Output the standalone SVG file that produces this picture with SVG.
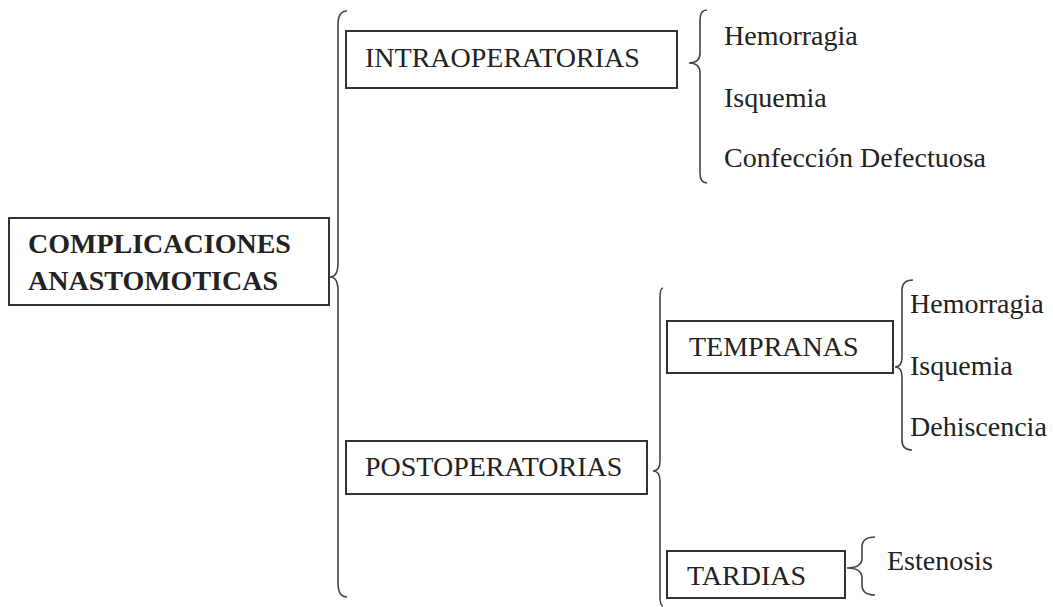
<svg xmlns="http://www.w3.org/2000/svg" width="1053" height="607" viewBox="0 0 1053 607">
<style>
.box{fill:#fff;stroke:#333;stroke-width:2}
.br{fill:none;stroke:#444;stroke-width:1.6}
.t{font-family:"Liberation Serif","Times New Roman",serif;font-size:28px;fill:#222}
.b{font-weight:bold}
</style>
<rect width="1053" height="607" fill="#fff"/>
<g id="connectors">
<path class="br" d="M347,11 Q338,11 338,25 L338,263 Q338,277 330,277 Q338,277 338,291 L338,583 Q338,597 347,597"/>
<path class="br" d="M707,10 Q700,10 700,20 L700,53 Q700,63 689,63 Q700,63 700,73 L700,173 Q700,183 707,183"/>
<path class="br" d="M663,288 Q660,288 660,298 L660,461 Q660,471 653,471 Q660,471 660,481 L660,596 Q660,606 663,606"/>
<path class="br" d="M913,280 Q902,280 902,290 L902,357 Q902,367 895,367 Q902,367 902,377 L902,440 Q902,450 912,450"/>
<path class="br" d="M875,537 Q862,537 862,547 L862,558 Q862,568 847,568 Q862,568 862,578 L862,585 Q862,595 875,595"/>
</g>
<g id="root">
<rect class="box" x="9" y="218" width="320" height="87"/>
<text class="t b" x="28" y="253">COMPLICACIONES</text>
<text class="t b" x="28" y="290">ANASTOMOTICAS</text>
</g>
<g id="intra">
<rect class="box" x="346" y="31" width="331" height="57"/>
<text class="t" x="365" y="67">INTRAOPERATORIAS</text>
</g>
<g id="intra-items">
<text class="t" x="724" y="45">Hemorragia</text>
<text class="t" x="724" y="107">Isquemia</text>
<text class="t" x="724" y="167">Confección Defectuosa</text>
</g>
<g id="post">
<rect class="box" x="346" y="441" width="301" height="53"/>
<text class="t" x="365" y="476">POSTOPERATORIAS</text>
</g>
<g id="tempranas">
<rect class="box" x="667" y="321" width="226" height="52"/>
<text class="t" x="689" y="356">TEMPRANAS</text>
</g>
<g id="tempranas-items">
<text class="t" x="910" y="313">Hemorragia</text>
<text class="t" x="910" y="375">Isquemia</text>
<text class="t" x="910" y="436">Dehiscencia</text>
</g>
<g id="tardias">
<rect class="box" x="667" y="551" width="178" height="47"/>
<text class="t" x="687" y="585">TARDIAS</text>
</g>
<g id="tardias-items">
<text class="t" x="887" y="570">Estenosis</text>
</g>
</svg>
